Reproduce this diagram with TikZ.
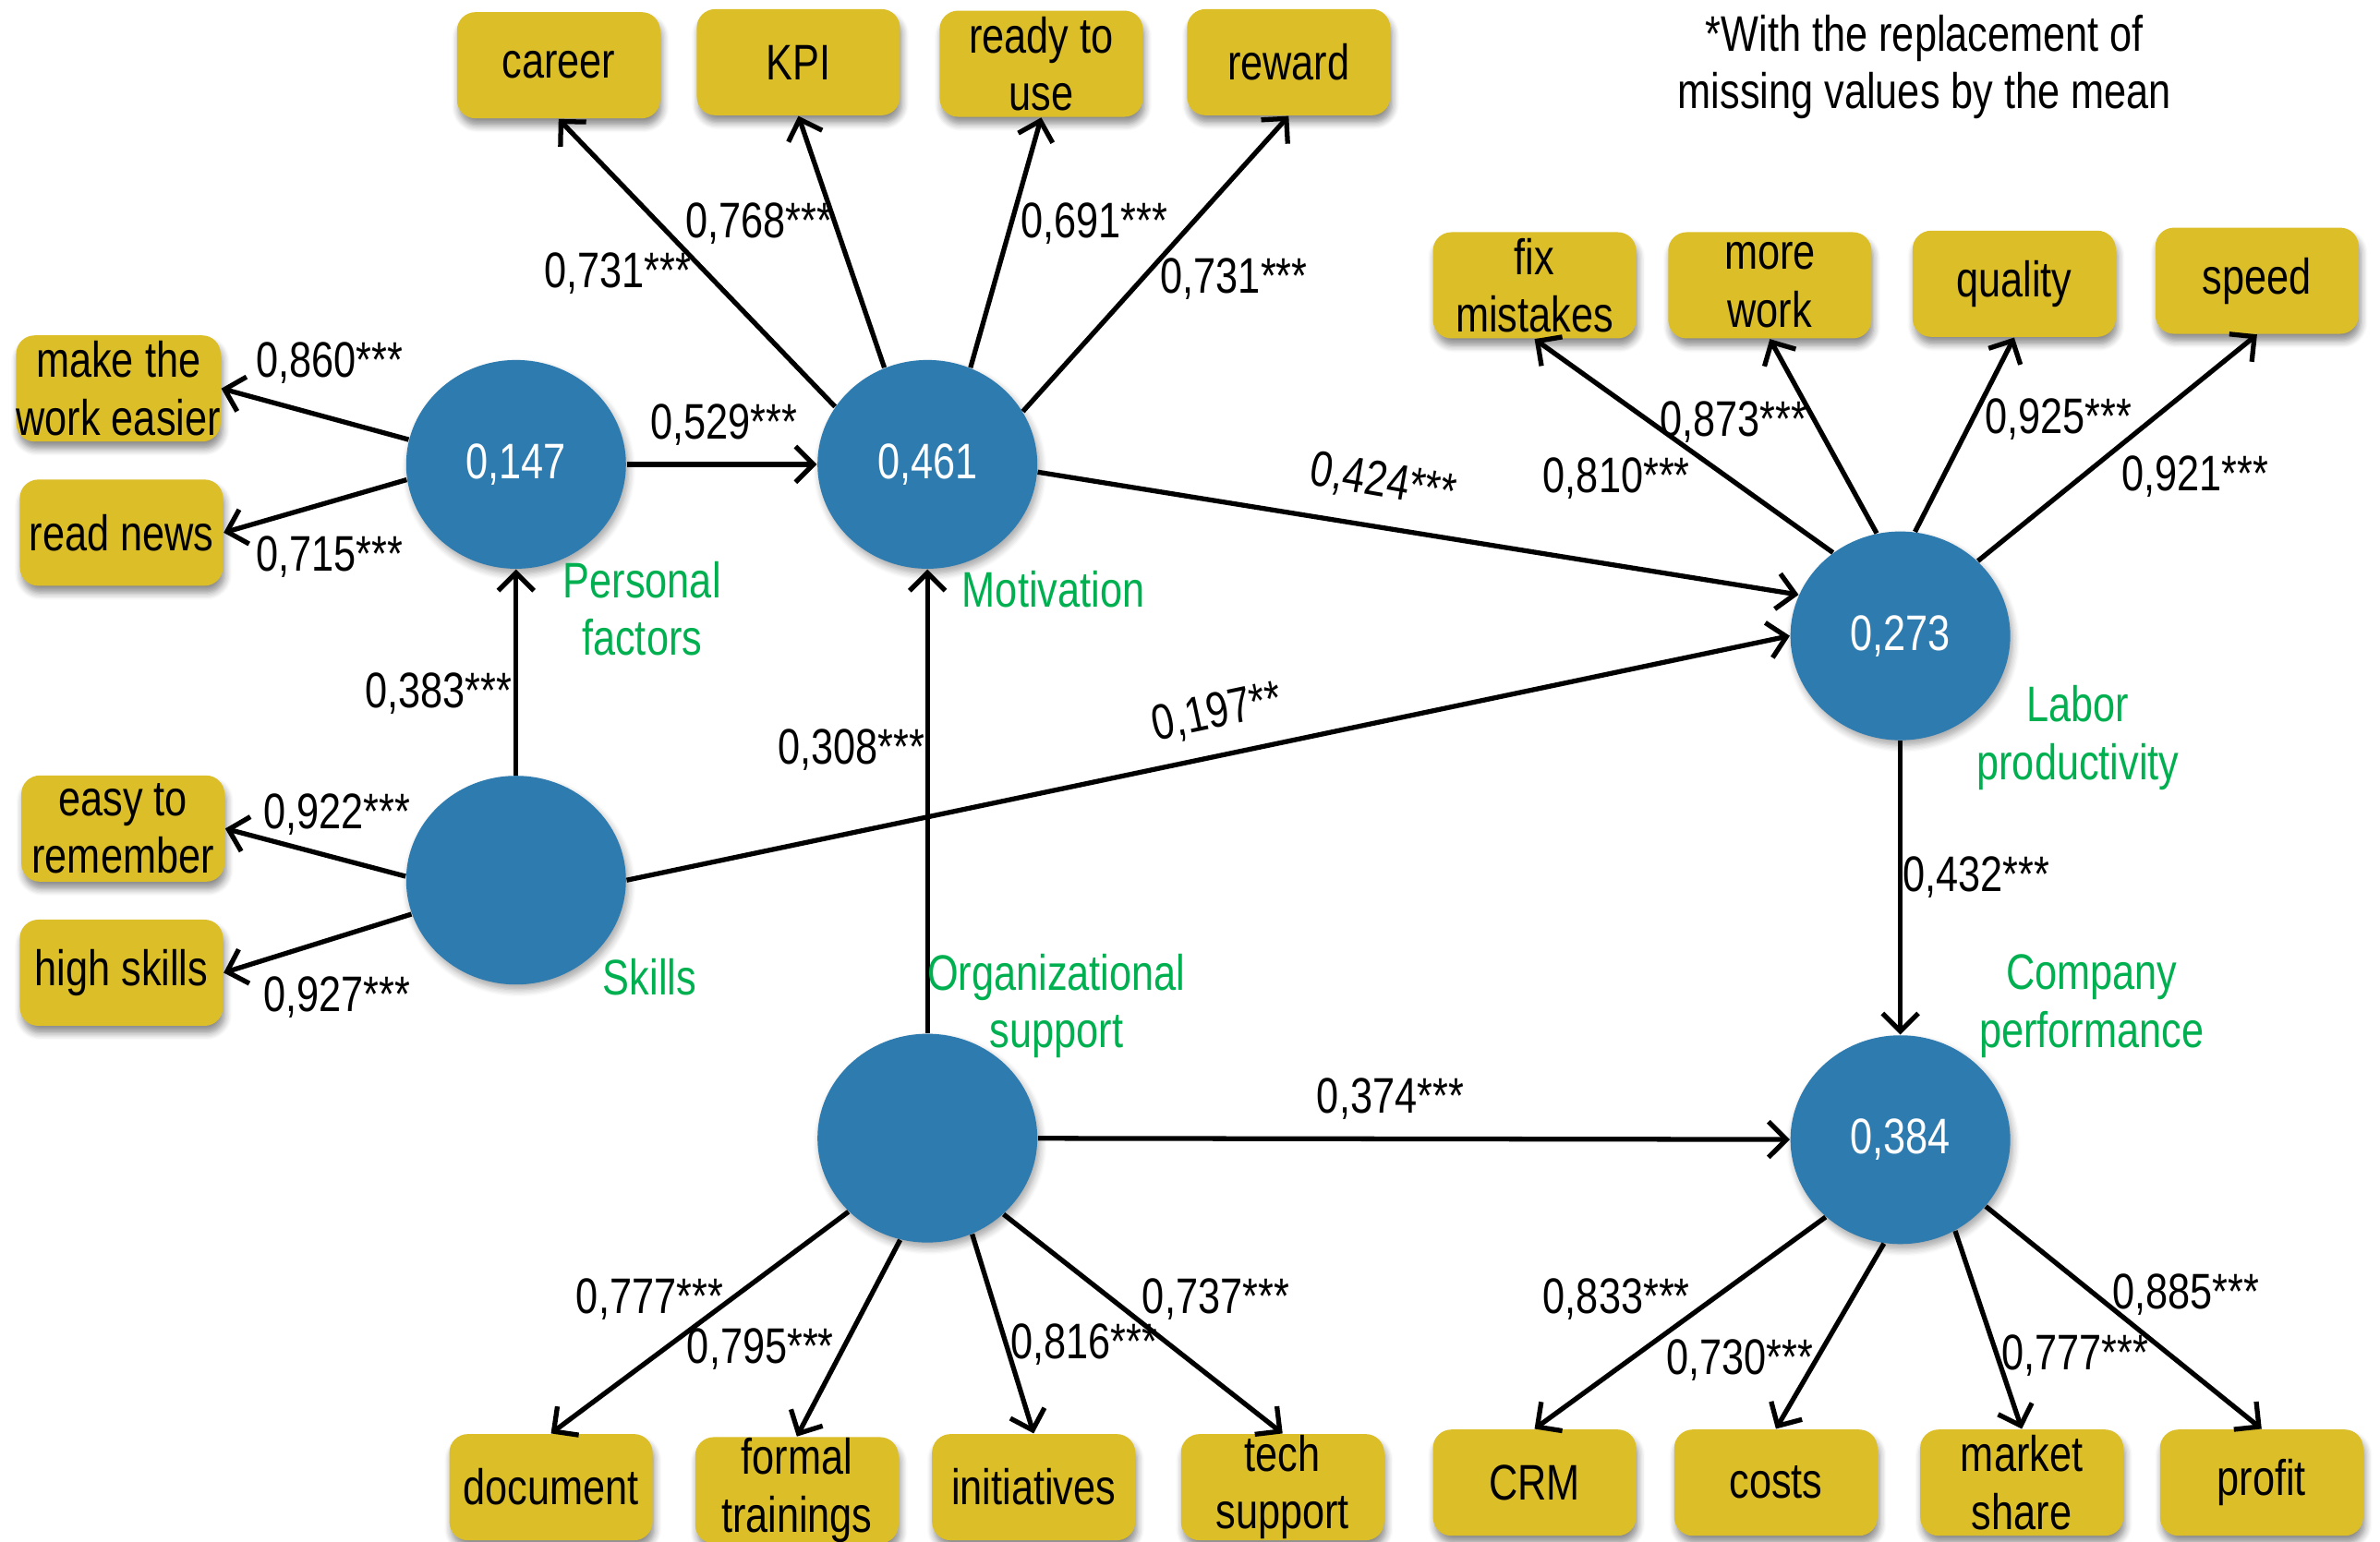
\documentclass[tikz,border=0pt]{standalone}
\usepackage{fontspec}
\setmainfont[FakeStretch=0.8]{Liberation Sans}
\usetikzlibrary{arrows.meta,shapes.geometric,shadows.blur}
\definecolor{boxgold}{HTML}{DCBE28}
\definecolor{lvblue}{HTML}{2E7BB0}
\definecolor{lvgreen}{HTML}{00B050}

\begin{document}
\begin{tikzpicture}[x=0.016435cm,y=-0.016435cm,
  every node/.style={font=\fontsize{15.4}{17.8}\selectfont},
  ind/.style={fill=boxgold, rounded corners=0.2cm, minimum width=2.2cm,
    minimum height=1.15cm, inner sep=0pt, align=center,
    blur shadow={shadow xshift=0.6pt, shadow yshift=-2.2pt,
      shadow blur steps=6, shadow opacity=45}},
  lv/.style={ellipse, fill=lvblue, minimum width=2.38cm, minimum height=2.26cm,
    inner sep=0pt, text=white,
    blur shadow={shadow xshift=0.8pt, shadow yshift=-1.6pt,
      shadow blur steps=6, shadow opacity=35}},
  pth/.style={line width=1.5pt, -{Straight Barb[length=5.5pt,width=11pt]}},
  coef/.style={inner sep=1pt},
  lvname/.style={text=lvgreen, align=center, inner sep=1pt}]

\useasboundingbox (0,0) rectangle (1568,1016);

% latent variables
\node[lv] (pf) at (340,306) {0,147};
\node[lv] (mo) at (611,306) {0,461};
\node[lv] (sk) at (340,580) {};
\node[lv] (os) at (611,750) {};
\node[lv] (lp) at (1252,419) {0,273};
\node[lv] (cp) at (1252,751) {0,384};

% indicators of motivation
\node[ind] (career) at (368,43) {career};
\node[ind] (kpi) at (526,41) {KPI};
\node[ind] (ready) at (686,42) {ready to\\use};
\node[ind] (reward) at (849,41) {reward};

% indicators of personal factors and skills
\node[ind] (mwe) at (78,256) {make the\\work easier};
\node[ind] (rn) at (80,351) {read news};
\node[ind] (etr) at (81,546) {easy to\\remember};
\node[ind] (hs) at (80,641) {high skills};

% indicators of labor productivity
\node[ind] (fm) at (1011,188) {fix\\mistakes};
\node[ind] (mw) at (1166,188) {more\\work};
\node[ind] (ql) at (1327,187) {quality};
\node[ind] (sp) at (1487,185) {speed};

% indicators of organizational support
\node[ind] (doc) at (363,980) {document};
\node[ind] (ft) at (525,982) {formal\\trainings};
\node[ind] (ini) at (681,980) {initiatives};
\node[ind] (ts) at (845,980) {tech\\support};

% indicators of company performance
\node[ind] (crm) at (1011,977) {CRM};
\node[ind] (cst) at (1170,977) {costs};
\node[ind] (ms) at (1332,977) {market\\share};
\node[ind] (prf) at (1490,977) {profit};

% paths
\draw[pth] (pf.167) -- (mwe.east);
\draw[pth] (pf.188) -- (rn.east);
\draw[pth] (pf) -- (mo);
\draw[pth] (mo.148) -- (career.south);
\draw[pth] (mo.114) -- (kpi.south);
\draw[pth] (mo.66) -- (ready.south);
\draw[pth] (mo.29) -- (reward.south);
\draw[pth] (mo.-4) -- (lp.158);
\draw[pth] (sk) -- (pf);
\draw[pth] (sk.178) -- (etr.east);
\draw[pth] (sk.198) -- (hs.east);
\draw[pth] (sk.east) -- (lp.west);
\draw[pth] (os) -- (mo);
\draw[pth] (os) -- (cp);
\draw[pth] (os.223) -- (doc.north);
\draw[pth] (os.255) -- (ft.north);
\draw[pth] (os.295) -- (ini.north);
\draw[pth] (os.315) -- (ts.north);
\draw[pth] (lp.129) -- (fm.south);
\draw[pth] (lp.103) -- (mw.south);
\draw[pth] (lp.82) -- (ql.south);
\draw[pth] (lp.44) -- (sp.south);
\draw[pth] (lp) -- (cp);
\draw[pth] (cp.226) -- (crm.north);
\draw[pth] (cp.261) -- (cst.north);
\draw[pth] (cp.301) -- (ms.north);
\draw[pth] (cp.322) -- (prf.north);

% coefficients
\node[coef] (c1) at (217,239) {0,860***};
\node[coef] (c2) at (217,367) {0,715***};
\node[coef] (c3) at (477,280) {0,529***};
\node[coef] (c4) at (407,180) {0,731***};
\node[coef] (c5) at (500,147) {0,768***};
\node[coef] (c6) at (721,147) {0,691***};
\node[coef] (c7) at (813,184) {0,731***};
\node[coef, rotate=-10] (c8) at (911,318) {0,424***};
\node[coef] (c9) at (289,457) {0,383***};
\node[coef] (c10) at (222,537) {0,922***};
\node[coef] (c11) at (222,657) {0,927***};
\node[coef, rotate=12] (c12) at (802,470) {0,197**};
\node[coef] (c13) at (561,494) {0,308***};
\node[coef] (c14) at (916,724) {0,374***};
\node[coef] (c15) at (428,856) {0,777***};
\node[coef] (c16) at (501,889) {0,795***};
\node[coef] (c17) at (714,886) {0,816***};
\node[coef] (c18) at (801,856) {0,737***};
\node[coef] (c19) at (1065,315) {0,810***};
\node[coef] (c20) at (1142,278) {0,873***};
\node[coef] (c21) at (1356,276) {0,925***};
\node[coef] (c22) at (1446,314) {0,921***};
\node[coef] (c23) at (1302,578) {0,432***};
\node[coef] (c24) at (1065,856) {0,833***};
\node[coef] (c25) at (1146,896) {0,730***};
\node[coef] (c26) at (1367,893) {0,777***};
\node[coef] (c27) at (1440,853) {0,885***};

% construct names
\node[lvname] (npf) at (423,401) {Personal\\factors};
\node[lvname] (nmo) at (694,388) {Motivation};
\node[lvname] (nsk) at (428,644) {Skills};
\node[lvname] (nos) at (696,663) {Organizational\\support};
\node[lvname] (nlp) at (1369,486) {Labor\\productivity};
\node[lvname] (ncp) at (1378,663) {Company\\performance};

% footnote
\node[align=center] (note) at (1268,44) {*With the replacement of\\missing values by the mean};
\end{tikzpicture}
\end{document}
